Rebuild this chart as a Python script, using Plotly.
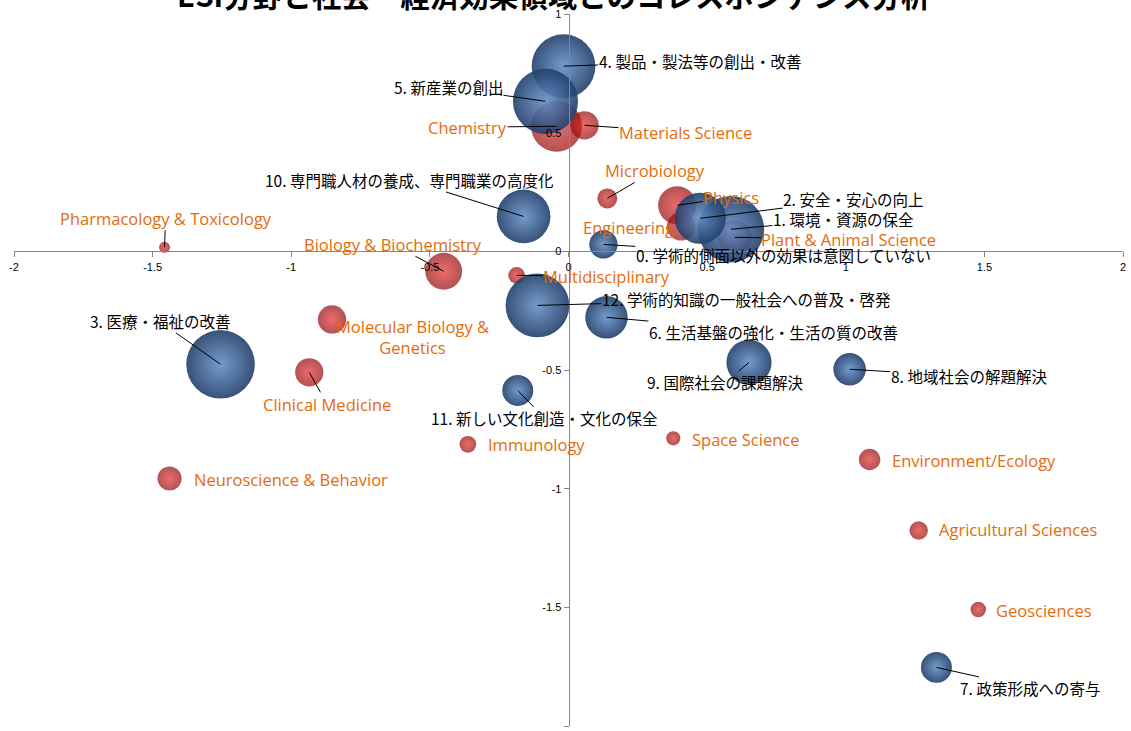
import plotly.graph_objects as go

# --- 社会・経済効果領域 (blue bubbles) ---
impact_labels = [
    "0. 学術的側面以外の効果は意図していない",
    "1. 環境・資源の保全",
    "2. 安全・安心の向上",
    "3. 医療・福祉の改善",
    "4. 製品・製法等の創出・改善",
    "5. 新産業の創出",
    "6. 生活基盤の強化・生活の質の改善",
    "7. 政策形成への寄与",
    "8. 地域社会の解題解決",
    "9. 国際社会の課題解決",
    "10. 専門職人材の養成、専門職業の高度化",
    "11. 新しい文化創造・文化の保全",
    "12. 学術的知識の一般社会への普及・啓発",
]
impact_dim1 = [0.126, 0.586, 0.475, -1.255, -0.018, -0.083, 0.137, 1.327, 1.014, 0.651, -0.162, -0.183, -0.112]
impact_dim2 = [0.029, 0.093, 0.139, -0.476, 0.780, 0.632, -0.278, -1.753, -0.497, -0.468, 0.147, -0.586, -0.228]
impact_mass = [4.0, 22.0, 13.0, 23.5, 20.3, 21.2, 9.0, 4.8, 5.3, 10.2, 14.4, 4.8, 20.3]

# --- ESI分野 (red bubbles) ---
field_labels = [
    "Chemistry", "Materials Science", "Microbiology", "Physics", "Engineering",
    "Plant & Animal Science", "Pharmacology & Toxicology", "Biology & Biochemistry",
    "Multidisciplinary", "Molecular Biology &<br>Genetics", "Clinical Medicine",
    "Immunology", "Space Science", "Environment/Ecology", "Agricultural Sciences",
    "Geosciences", "Neuroscience & Behavior",
]
field_dim1 = [-0.043, 0.058, 0.140, 0.392, 0.406, 0.600, -1.457, -0.450, -0.187, -0.853, -0.935,
              -0.363, 0.378, 1.086, 1.263, 1.478, -1.439]
field_dim2 = [0.527, 0.531, 0.223, 0.194, 0.105, 0.059, 0.017, -0.084, -0.101, -0.287, -0.510,
              -0.813, -0.788, -0.877, -1.176, -1.509, -0.957]
field_mass = [13.0, 4.0, 2.0, 7.3, 4.0, 5.8, 0.6, 6.8, 1.4, 4.0, 4.0, 1.4, 1.0, 2.3, 1.7, 1.2, 2.9]

tick_vals_x = [-2, -1.5, -1, -0.5, 0, 0.5, 1, 1.5, 2]
tick_text_x = ["-2", "-1.5", "-1", "-0.5", "0", "0.5", "1", "1.5", "2"]
tick_vals_y = [-2, -1.5, -1, -0.5, 0, 0.5, 1]
tick_text_y = ["-2", "-1.5", "-1", "-0.5", "0", "0.5", "1"]

TITLE = "ESI分野と社会・経済効果領域とのコレスポンデンス分析"

# label placement (pixel offsets from the bubble centre); leader = draw a connector line
impact_offsets = [
    (180, 11, True), (112, -10, True), (153, -19, True), (-61, -43, True),
    (136, -5, True), (-97, -14, True), (167, 15, True), (94, 21, True),
    (119, 7, True), (-24, 20, True), (-114, -36, True), (27, 28, True),
    (209, -6, True),
]
field_offsets = [
    (-89, 1, True), (101, 7, True), (48, -28, True), (54, -8, True), (-53, 1, False),
    (114, 2, True), (1, -29, True), (-51, -27, True), (90, 1, True), (80, 18, False),
    (18, 32, True), (69, 0, False), (72, 1, False), (104, 1, False), (100, -1, False),
    (66, 1, False), (121, 1, False),
]

JP_FONT = "Noto Sans CJK JP, sans-serif"
EN_FONT = "Open Sans, sans-serif"
ORANGE = "#E46C0A"
SIZEREF = 0.01

fig = go.Figure()

fig.add_trace(go.Scatter(
    x=field_dim1, y=field_dim2, mode="markers", hoverinfo="skip",
    marker=dict(size=field_mass, sizemode="area", sizeref=SIZEREF,
                color="#8f0a0a", line=dict(width=0),
                gradient=dict(type="radial", color="#e82a2a")),
    showlegend=False,
))
fig.add_trace(go.Scatter(
    x=impact_dim1, y=impact_dim2, mode="markers", hoverinfo="skip",
    marker=dict(size=impact_mass, sizemode="area", sizeref=SIZEREF,
                color="#213f6a", opacity=0.9, line=dict(width=0),
                gradient=dict(type="radial", color="#6590c8")),
    showlegend=False,
))

def add_labels(xs, ys, labels, offsets, font):
    for x, y, text, (dx, dy, leader) in zip(xs, ys, labels, offsets):
        if leader:
            fig.add_annotation(x=x, y=y, text=text, showarrow=True, ax=dx, ay=dy,
                               arrowhead=0, arrowwidth=1, arrowcolor="black",
                               standoff=0, font=font, borderpad=0)
        else:
            fig.add_annotation(x=x, y=y, text=text, showarrow=False,
                               xshift=dx, yshift=-dy, font=font)

add_labels(impact_dim1, impact_dim2, impact_labels, impact_offsets,
           dict(family=JP_FONT, size=15.5, color="black"))
add_labels(field_dim1, field_dim2, field_labels, field_offsets,
           dict(family=EN_FONT, size=16.5, color=ORANGE))

fig.add_annotation(xref="paper", yref="paper", x=0.4865, y=1, yanchor="middle",
                   yshift=20, text="<b>" + TITLE + "</b>", showarrow=False,
                   font=dict(family=JP_FONT, size=29.5, color="black"))

axis_common = dict(showgrid=False, zeroline=False, showline=True, linecolor="#878787",
                   linewidth=1, ticks="outside", ticklen=5, tickcolor="#878787",
                   tickfont=dict(family="Liberation Sans Narrow, Arial Narrow, sans-serif",
                                 size=11, color="black"),
                   anchor="free", fixedrange=True)

fig.update_layout(
    width=1131, height=731,
    margin=dict(l=14, r=5, t=14, b=5),
    paper_bgcolor="white", plot_bgcolor="white",
    xaxis=dict(range=[-2, 2], tickvals=tick_vals_x, ticktext=tick_text_x,
               position=2 / 3, **axis_common),
    yaxis=dict(range=[-2, 1], tickvals=tick_vals_y, ticktext=tick_text_y,
               position=0.5, **axis_common),
)

fig.write_html("out.html")
